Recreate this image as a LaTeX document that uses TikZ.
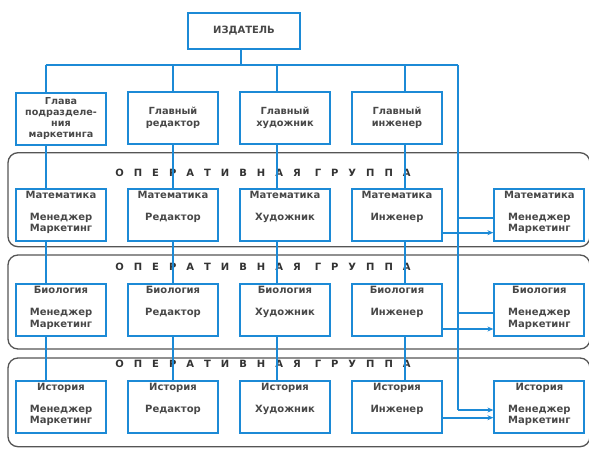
\documentclass[tikz,border=0pt]{standalone}
\usepackage{fontspec}
\setmainfont{DejaVu Sans}
\newfontfamily\grpfont{DejaVu Sans}[LetterSpace=100]
\usetikzlibrary{arrows.meta}
\definecolor{lineblue}{RGB}{28,138,214}
\definecolor{grpgray}{RGB}{85,85,85}
\definecolor{txtgray}{RGB}{72,72,72}
\tikzset{
  box/.style={draw=lineblue, line width=2pt, minimum width=90pt, minimum height=52pt, inner sep=0pt},
  pubbox/.style={box, minimum width=112pt, minimum height=36.6pt, text=txtgray, font=\bfseries\fontsize{10}{12}\selectfont},
  headbox/.style={box, text=txtgray, align=center, font=\bfseries\fontsize{9.8}{11.6}\selectfont},
  link/.style={draw=lineblue, line width=1.8pt},
  arr/.style={link, -{Stealth[length=6pt,width=5pt]}},
  grp/.style={draw=grpgray, line width=1.3pt, rounded corners=10pt},
  lbl/.style={font=\bfseries\fontsize{10}{11.5}\selectfont, text=txtgray, inner sep=0pt, align=center, anchor=north},
  grptitle/.style={font=\grpfont\bfseries\fontsize{10}{12}\selectfont, text=black!80, inner sep=0pt},
}
\newcommand\cell[5]{%
  \node[box, anchor=north] (#1) at (#2,#3) {};
  \node[lbl] (#1s) at ([yshift=-3pt]#1.north) {#4};
  \node[lbl] (#1r) at ([yshift=-25pt]#1.north) {#5};
}
\newcommand\grptext{ОПЕРАТИВНАЯ\rule{14pt}{0pt}ГРУППА}
\begin{document}
\begin{tikzpicture}[x=1pt,y=-1pt]
\useasboundingbox (0,0) rectangle (589,449);
% operational groups
\draw[grp] (8,152.7) rectangle (590,246.7);
\draw[grp] (8,255) rectangle (590,349);
\draw[grp] (8,358) rectangle (590,446.7);
\node[grptitle] (t1) at (263,172.7) {\grptext};
\node[grptitle] (t2) at (263,267) {\grptext};
\node[grptitle] (t3) at (263,364) {\grptext};
% top
\node[pubbox] (pub) at (244,31) {ИЗДАТЕЛЬ};
\node[headbox, font=\bfseries\fontsize{9.6}{11}\selectfont] (h1) at (61,119) {Глава\\подразделе-\\ния\\маркетинга};
\node[headbox] (h2) at (173,118) {Главный\\редактор};
\node[headbox] (h3) at (285,118) {Главный\\художник};
\node[headbox] (h4) at (397,118) {Главный\\инженер};
% rows
\cell{m1}{61}{188}{Математика}{Менеджер\\Маркетинг}
\cell{m2}{173}{188}{Математика}{Редактор}
\cell{m3}{285}{188}{Математика}{Художник}
\cell{m4}{397}{188}{Математика}{Инженер}
\cell{m5}{539.4}{188}{Математика}{Менеджер\\Маркетинг}
\cell{b1}{61}{283.3}{Биология}{Менеджер\\Маркетинг}
\cell{b2}{173}{283.3}{Биология}{Редактор}
\cell{b3}{285}{283.3}{Биология}{Художник}
\cell{b4}{397}{283.3}{Биология}{Инженер}
\cell{b5}{539.4}{283.3}{Биология}{Менеджер\\Маркетинг}
\cell{i1}{61}{380}{История}{Менеджер\\Маркетинг}
\cell{i2}{173}{380}{История}{Редактор}
\cell{i3}{285}{380}{История}{Художник}
\cell{i4}{397}{380}{История}{Инженер}
\cell{i5}{539.4}{380}{История}{Менеджер\\Маркетинг}
% junctions
\coordinate (j0) at (241,65);
\coordinate (j1) at (45.7,65);
\coordinate (j2) at (173,65);
\coordinate (j3) at (277,65);
\coordinate (j4) at (405,65);
\coordinate (j5) at (458,65);
\coordinate (k1) at (458,218);
\coordinate (k2) at (458,313);
\coordinate (k3) at (458,410);
% connectors
\draw[link] (pub.south -| j0) -- (j0);
\draw[link] (j1) -- (j5);
\foreach \j/\h/\m/\b/\i in {j1/h1/m1/b1/i1, j2/h2/m2/b2/i2, j3/h3/m3/b3/i3, j4/h4/m4/b4/i4}{
  \draw[link] (\j) -- (\j |- \h.north);
  \draw[link] (\j |- \h.south) -- (\j |- \m.north);
  \draw[link] (\j |- \m.south) -- (\j |- \b.north);
  \draw[link] (\j |- \b.south) -- (\j |- \i.north);
}
\draw[link] (j5) -- (k3);
\draw[link] (k1) -- (k1 -| m5.west);
\draw[link] (k2) -- (k2 -| b5.west);
\draw[arr] (k3) -- (k3 -| i5.west);
\draw[arr] ([yshift=-17.7pt]m4.east) -- ([yshift=-17.7pt]m4.east -| m5.west);
\draw[arr] ([yshift=-18.7pt]b4.east) -- ([yshift=-18.7pt]b4.east -| b5.west);
\draw[arr] ([yshift=-10.7pt]i4.east) -- ([yshift=-10.7pt]i4.east -| i5.west);
\end{tikzpicture}
\end{document}
